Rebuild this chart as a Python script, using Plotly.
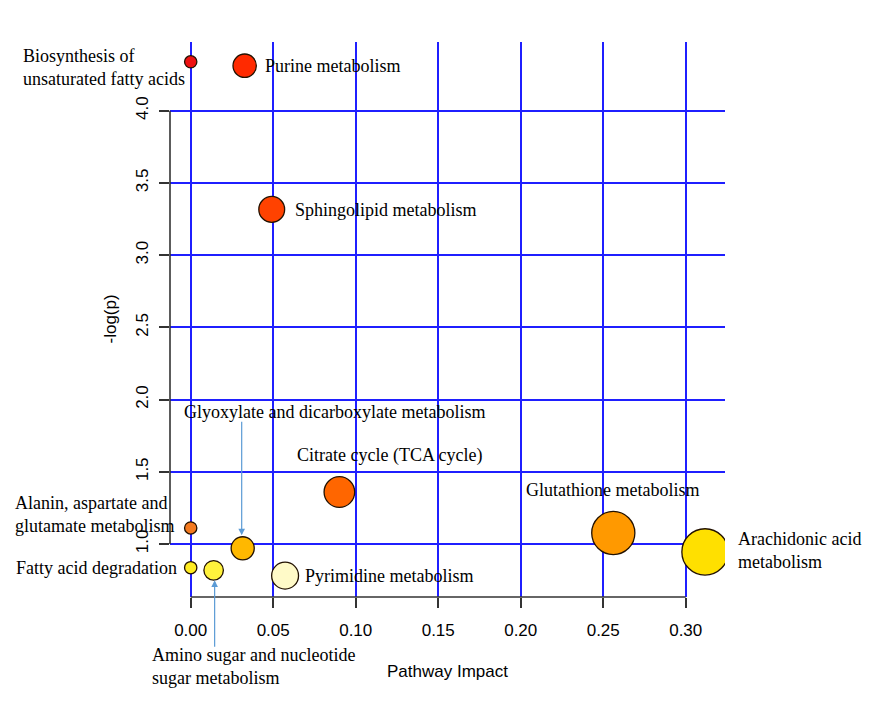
import numpy as np
import plotly.graph_objects as go

# ---- data ----
pathways = [
    "Biosynthesis of unsaturated fatty acids",
    "Purine metabolism",
    "Sphingolipid metabolism",
    "Citrate cycle (TCA cycle)",
    "Alanin, aspartate and glutamate metabolism",
    "Glutathione metabolism",
    "Glyoxylate and dicarboxylate metabolism",
    "Arachidonic acid metabolism",
    "Fatty acid degradation",
    "Amino sugar and nucleotide sugar metabolism",
    "Pyrimidine metabolism",
]
impact = [0.0, 0.0327, 0.0491, 0.0901, 0.0, 0.2561, 0.0315, 0.3117, 0.0, 0.0139, 0.0572]
neglogp = [4.339, 4.312, 3.317, 1.360, 1.111, 1.076, 0.970, 0.945, 0.836, 0.818, 0.781]

x_ticks = [0.00, 0.05, 0.10, 0.15, 0.20, 0.25, 0.30]
y_ticks = [1.0, 1.5, 2.0, 2.5, 3.0, 3.5, 4.0]

# ---- styles ----
colors = ["#EE1111", "#FF2A00", "#FF4200", "#FF6600", "#F47A20", "#FF9900",
          "#FFB800", "#FFE000", "#FFEC22", "#FFF23C", "#FFFAC8"]
sizes = [12.3 + 61 * np.sqrt(v) for v in impact]

# label text and placement (pixel offsets from the point)
labels = [
    dict(text="Biosynthesis of<br>unsaturated fatty acids", xs=-4, ys=-6, xa="right", align="left"),
    dict(text="Purine metabolism", xs=18, ys=0, xa="left", align="left"),
    dict(text="Sphingolipid metabolism", xs=21, ys=-1, xa="left", align="left"),
    dict(text="Citrate cycle (TCA cycle)", xs=50, ys=37, xa="center", align="center"),
    dict(text="Alanin, aspartate and<br>glutamate metabolism", xs=-15, ys=13, xa="right", align="left"),
    dict(text="Glutathione metabolism", xs=-1, ys=43, xa="center", align="center"),
    dict(text="Glyoxylate and dicarboxylate metabolism", xs=92, ys=136, xa="center", align="center"),
    dict(text="Arachidonic acid<br>metabolism", xs=31, ys=1, xa="left", align="left"),
    dict(text="Fatty acid degradation", xs=-12, ys=0, xa="right", align="left"),
    dict(text="Amino sugar and nucleotide<br>sugar metabolism", xs=-64, ys=-96, xa="left", align="left"),
    dict(text="Pyrimidine metabolism", xs=18, ys=0, xa="left", align="left"),
]

fig = go.Figure()
fig.add_trace(go.Scatter(
    x=impact, y=neglogp, mode="markers",
    marker=dict(size=sizes, sizemode="diameter", color=colors,
                line=dict(color="#221100", width=1.3), opacity=1),
    text=pathways, hoverinfo="text", showlegend=False,
))

annotations = []
serif = dict(family="Liberation Serif, Times New Roman, serif", size=18, color="#000000")
for xi, yi, lab in zip(impact, neglogp, labels):
    annotations.append(dict(
        x=xi, y=yi, xref="x", yref="y", text=lab["text"], showarrow=False,
        xshift=lab["xs"], yshift=lab["ys"], xanchor=lab["xa"], yanchor="middle",
        align=lab["align"], font=serif,
    ))

# arrows for Glyoxylate and Amino sugar
arrow_color = "#5B9BD5"
gi = pathways.index("Glyoxylate and dicarboxylate metabolism")
ai = pathways.index("Amino sugar and nucleotide sugar metabolism")
annotations.append(dict(x=impact[gi], y=neglogp[gi], xref="x", yref="y", text="",
                        showarrow=True, ax=0, ay=-128, arrowhead=2, arrowsize=1.1,
                        arrowwidth=1.2, arrowcolor=arrow_color, standoff=13, xshift=-1))
annotations.append(dict(x=impact[ai], y=neglogp[ai], xref="x", yref="y", text="",
                        showarrow=True, ax=0, ay=78, arrowhead=2, arrowsize=1.1,
                        arrowwidth=1.2, arrowcolor=arrow_color, standoff=10, xshift=1))

sans = "Liberation Sans, Arial, sans-serif"
annotations.append(dict(x=0.5, y=0, xref="paper", yref="paper", text="Pathway Impact",
                        showarrow=False, yshift=-74, xanchor="center", yanchor="middle",
                        font=dict(family=sans, size=17, color="#000")))
annotations.append(dict(x=0, y=0.5, xref="paper", yref="paper", text="-log(p)",
                        showarrow=False, xshift=-60, xanchor="center", yanchor="middle",
                        textangle=-90, font=dict(family=sans, size=17, color="#000")))

shapes = [
    dict(type="line", xref="paper", yref="y", x0=0, x1=0, y0=y_ticks[0], y1=y_ticks[-1],
         line=dict(color="#333333", width=1.6)),
    dict(type="line", xref="x", yref="paper", x0=x_ticks[0], x1=x_ticks[-1], y0=0, y1=0,
         line=dict(color="#333333", width=1.6)),
]

grid_color = "#1F1FFF"
fig.update_layout(
    width=874, height=712,
    margin=dict(l=162, r=157, t=34, b=123),
    paper_bgcolor="white", plot_bgcolor="white",
    annotations=annotations, shapes=shapes,
    xaxis=dict(range=[-0.01255, 0.3238], tickvals=x_ticks, tickformat=".2f",
               showgrid=True, gridcolor=grid_color, gridwidth=1.5, zeroline=False,
               showline=False, ticks="outside", ticklen=10, tickwidth=1.6, tickcolor="#333",
               ticklabelstandoff=8,
               tickfont=dict(family=sans, size=17, color="#000")),
    yaxis=dict(range=[0.633, 4.476], tickvals=y_ticks, tickformat=".1f",
               showgrid=True, gridcolor=grid_color, gridwidth=1.5, zeroline=False,
               showline=False, ticks="outside", ticklen=10, tickwidth=1.6, tickcolor="#333",
               tickangle=-90, ticklabelstandoff=4,
               tickfont=dict(family=sans, size=17, color="#000")),
)

fig.write_html("out.html")
